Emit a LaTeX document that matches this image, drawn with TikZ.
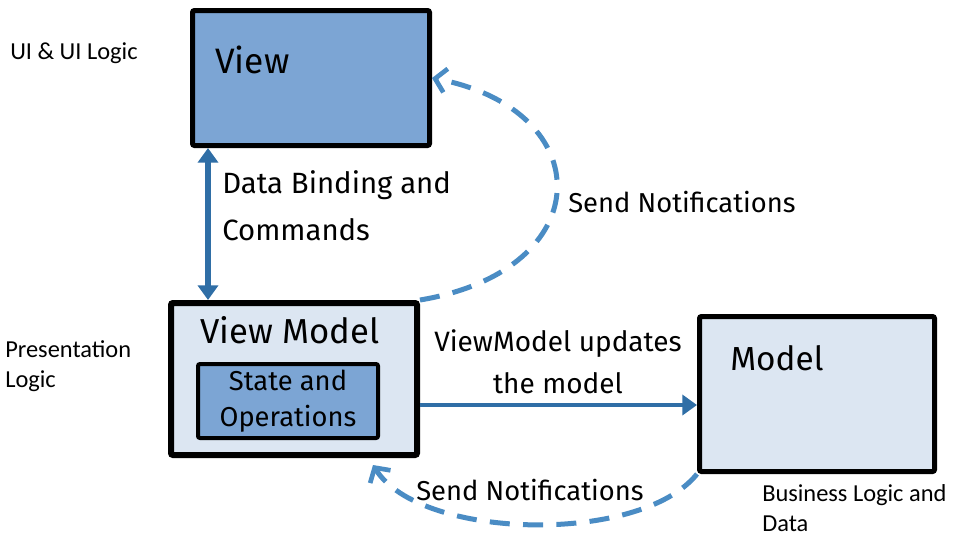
\documentclass[tikz,border=0pt]{standalone}
\usepackage{fontspec}
\setmainfont{Carlito}
\newfontfamily\hand{Fira Sans}
\usetikzlibrary{arrows.meta,calc}
\definecolor{darkfill}{HTML}{7CA5D4}
\definecolor{lightfill}{HTML}{DCE6F2}
\definecolor{arrowblue}{HTML}{2F6EA6}
\definecolor{dashblue}{HTML}{4A8CC4}
\begin{document}
\begin{tikzpicture}[x=0.75pt,y=-0.75pt,
  box/.style={draw=black, rounded corners=1.5pt, inner sep=0pt},
  side/.style={font=\fontsize{18.3}{22}\selectfont, align=left, inner sep=0pt, text=black},
  handtxt/.style={font=\hand\fontsize{20.5}{26}\selectfont, inner sep=0pt, text=black},
  bigtxt/.style={font=\hand\fontsize{26.5}{30}\selectfont, inner sep=0pt, text=black},
  solidarrow/.style={draw=arrowblue, line width=3.8pt, {Triangle[length=11pt,width=15pt]}-{Triangle[length=11pt,width=15pt]}},
  onearrow/.style={draw=arrowblue, line width=3.6pt, -{Triangle[length=11pt,width=15pt]}},
  dasharrow/.style={draw=dashblue, line width=3.75pt, dash pattern=on 15pt off 10pt, -{Straight Barb[length=8pt,width=18pt,line width=3.5pt]}}
]
\useasboundingbox[fill=white] (0,0) rectangle (959,537);

% boxes
\node[box, line width=3.75pt, fill=darkfill, minimum width=177.75pt, minimum height=101.25pt] (view) at (311,78) {};
\node[box, line width=4.5pt, fill=lightfill, minimum width=184.5pt, minimum height=114pt] (vm) at (294,379) {};
\node[box, line width=3pt, fill=darkfill, minimum width=135pt, minimum height=55.5pt, align=center, font=\hand\fontsize{20.5}{27}\selectfont] (so) at (288,401) {State and\\Operations};
\node[box, line width=3.75pt, fill=lightfill, minimum width=176.25pt, minimum height=116.25pt] (model) at (817,394) {};

% box titles
\node[bigtxt, anchor=base west] (viewt) at (215,73) {View};
\node[bigtxt, anchor=base west, font=\hand\fontsize{26}{30}\selectfont] (vmt) at (200,343) {View Model};
\node[bigtxt, anchor=base west, font=\hand\fontsize{25}{30}\selectfont] (modelt) at (730,370) {Model};

% side labels
\node[side, anchor=base west] (ui) at (10,59) {UI \& UI Logic};
\node[side, anchor=base west] (pl) at (5,387) {Presentation\\Logic};
\node[side, anchor=base west] (bl) at (762,531) {Business Logic and\\Data};

% connectors
\coordinate (dbx) at (208,0);
\coordinate (hy) at (0,405);
\draw[solidarrow] (view.south -| dbx) -- (vm.north -| dbx);
\draw[onearrow] (vm.east |- hy) -- (model.west |- hy);
\draw[dasharrow] (vm.north east) .. controls (600,270) and (600,110) .. (view.east);
\draw[dasharrow] (model.south west) .. controls (640,545) and (420,540) .. ($(vm.south east)+(-47,7)$);

% connector labels
\node[handtxt, anchor=base west, align=left, font=\hand\fontsize{22}{35}\selectfont] (db) at (222,240) {Data Binding and\\Commands};
\node[handtxt, anchor=base west] (sn1) at (568,212) {Send Notifications};
\node[handtxt, align=center, anchor=base, font=\hand\fontsize{21}{31}\selectfont] (vmu) at (558,393) {ViewModel updates\\the model};
\node[handtxt, anchor=base west] (sn2) at (416,500) {Send Notifications};
\end{tikzpicture}
\end{document}
